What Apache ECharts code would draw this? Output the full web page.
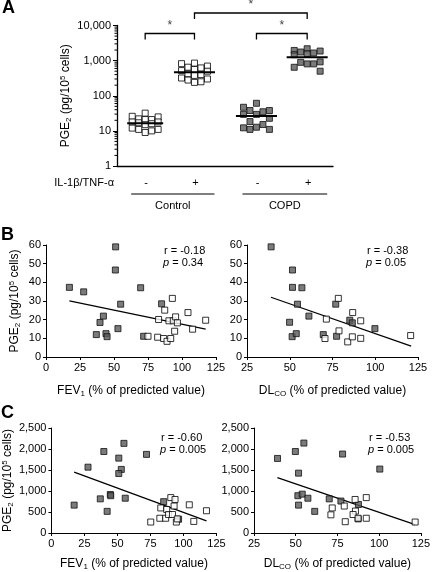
<!DOCTYPE html>
<html><head><meta charset="utf-8">
<script src="https://cdn.jsdelivr.net/npm/echarts@6/dist/echarts.min.js"></script>
<style>html,body{margin:0;padding:0;background:#fff}#c{width:433px;height:572px}</style>
</head><body><div id="c"></div>
<script>
// ---------- Panel A data ----------
const stimLabels = ['-', '+', '-', '+'];
const groupNames = ['Control', 'COPD'];
const treatmentName = 'IL-1\u03b2/TNF-\u03b1';
const ctrlBasal = [32, 26, 25, 22, 21, 21, 18, 18, 17, 16, 15, 12, 11, 11, 10, 9];
const ctrlStim = [850, 820, 700, 650, 620, 560, 520, 500, 420, 400, 380, 320, 300, 280, 250, 240];
const copdBasal = [61, 47, 38, 38, 35, 29.5, 29.5, 22.8, 18.4, 15.2, 12.7, 12.2, 11, 11];
const copdStim = [2180, 1950, 1875, 1760, 1650, 1575, 1475, 920, 895, 807, 807, 647, 500];
const groupMedians = [16.5, 470, 26.5, 1240];
const logTicksA = [1, 10, 100, 1000, 10000];

// ---------- Panel B data (basal PGE2) ----------
const bFevCopd = [[17.2,37.3],[27.7,34.9],[51.2,59],[51,46.6],[69.6,37.1],[54.9,28.3],[42.2,21.9],[39.7,18.5],[37,12],[44.1,12.5],[44.9,10.9],[52.9,15.2],[85,28.5],[71.8,11.1]];
const bFevCtrl = [[75,11.1],[82.1,10.6],[82.8,20.1],[87.3,25.1],[86.5,9.9],[89,8.4],[90.4,19.4],[91.7,9.9],[92.9,31.4],[93.6,19.4],[94.6,13.8],[95.3,21.5],[96.6,18.3],[104.4,23.8],[107.8,14.9],[117.4,19.7]];
const bFevFit = [[17.2,30.1],[117.4,14.9]];
const bFevStats = ['r = -0.18', '0.34'];

const bDlcoCopd = [[39.1,59],[51.6,46.6],[51.6,37.3],[57.1,37.1],[54.5,28.3],[49.9,18.6],[51.4,10.9],[53.8,12.5],[61.2,21.9],[69.6,12],[76.9,28.3],[77.4,11.1],[85.1,19.7],[86.6,18.3],[99.8,15.2]];
const bDlcoCtrl = [[71.4,20.3],[70.6,9.9],[78.4,31.4],[78.8,14],[83.9,8.1],[86.8,23.8],[86.6,10.8],[91.5,19.4],[91.5,10],[120.7,11.5]];
const bDlcoFit = [[39,32],[121,5.8]];
const bDlcoStats = ['r = -0.38', '0.05'];

// ---------- Panel C data (stimulated PGE2) ----------
const cFevCopd = [[17.2,664],[27.7,1567],[39.7,1940],[51,1783],[54.9,2134],[52.9,1514],[51,1417],[72,1872],[37,813],[44.6,917],[44.9,888],[55.9,828],[42.2,515],[85,746],[96.3,328]];
const cFevCtrl = [[75.2,261],[82.1,351],[82.8,597],[86.5,351],[87.3,560],[88.7,440],[90.4,843],[91.7,440],[92.9,642],[93.6,798],[94.6,261],[95.3,336],[104.4,671],[107.8,276],[117.4,530]];
const cFevFit = [[17.2,1450],[117.4,290]];
const cFevStats = ['r = -0.60', '0.005'];

const cDlcoCopd = [[39.1,1775],[49.8,1940],[54.9,2141],[51.7,1425],[51.3,888],[53.9,925],[57.3,828],[51.7,664],[61.4,515],[70.1,813],[78.1,1880],[77.1,761],[87.6,679],[100.4,1522],[87.4,336]];
const cDlcoCtrl = [[71.9,597],[71.1,433],[79.1,642],[79.7,269],[85.6,798],[85.8,522],[84.4,440],[87.4,351],[92.3,843],[92.3,351],[121.6,261]];
const cDlcoFit = [[39,1320],[121.6,200]];
const cDlcoStats = ['r = -0.53', '0.005'];

// ---------- styling / layout ----------
const FONT = "'Liberation Sans', Arial, Helvetica, sans-serif";
const groupCenters = [1, 2.05, 3.37, 4.45];
const medianHalf = [0.383, 0.437, 0.437, 0.437];
const colStep = 0.138;
const colPattern = [0, -2, 2, -1, 1];
const OPEN = {color:'#ffffff', borderColor:'#000', borderWidth:1};
const FILL = {color:'#5a5a5a', borderColor:'#111', borderWidth:1};

function swarm(values, center) {
  const idx = values.map((v,i)=>i).sort((a,b)=>values[b]-values[a]);
  const out = new Array(values.length);
  idx.forEach((k, j) => { out[k] = [center + colPattern[j % colPattern.length]*colStep, values[k]]; });
  return out;
}
const fmt = v => Number(v).toLocaleString('en-US');
const richPGE = {
  a:{fontSize:12, fontFamily:FONT, color:'#000', lineHeight:14},
  s:{fontSize:8, fontFamily:FONT, color:'#000', lineHeight:8, verticalAlign:'bottom'},
  p:{fontSize:8, fontFamily:FONT, color:'#000', lineHeight:8, verticalAlign:'top'}
};
const pgeName = '{a|PGE}{s|2}{a| (pg/10}{p|5}{a| cells)}';
const fevName = '{a|FEV}{s|1}{a| (% of predicted value)}';
const dlcoName = '{a|DL}{s|CO}{a| (% of predicted value)}';

function valAxis(gi, min, max, interval, extra) {
  return Object.assign({
    type:'value', gridIndex:gi, min, max, interval,
    axisLine:{show:true, lineStyle:{color:'#000', width:1}},
    axisTick:{show:true, length:3, inside:false, lineStyle:{color:'#000'}},
    axisLabel:{color:'#000', fontSize:11, fontFamily:FONT, margin:5, formatter: fmt},
    splitLine:{show:false}
  }, extra || {});
}

const xAxis = [
  {type:'value', gridIndex:0, min:0.4, max:5.0, axisLine:{show:true, lineStyle:{color:'#000', width:1.3}},
   axisTick:{show:false}, axisLabel:{show:false}, splitLine:{show:false}},
  valAxis(1, 0, 125, 25, {name:fevName, nameLocation:'middle', nameGap:27, nameTextStyle:{rich:richPGE}}),
  valAxis(2, 25, 125, 25, {name:dlcoName, nameLocation:'middle', nameGap:27, nameTextStyle:{rich:richPGE}}),
  valAxis(3, 0, 125, 25, {name:fevName, nameLocation:'middle', nameGap:24, nameTextStyle:{rich:richPGE}}),
  valAxis(4, 25, 125, 25, {name:dlcoName, nameLocation:'middle', nameGap:24, nameTextStyle:{rich:richPGE}})
];
const yAxis = [
  {type:'log', gridIndex:0, min:logTicksA[0], max:logTicksA[logTicksA.length-1], logBase:10,
   axisLine:{show:true, lineStyle:{color:'#000', width:1.3}},
   axisTick:{show:true, length:4, lineStyle:{color:'#000'}},
   axisLabel:{color:'#000', fontSize:11, fontFamily:FONT, margin:6, formatter: fmt},
   splitLine:{show:false}, minorTick:{show:false},
   name:pgeName, nameLocation:'middle', nameRotate:90, nameGap:44, nameTextStyle:{rich:richPGE}},
  valAxis(1, 0, 60, 10, {name:pgeName, nameLocation:'middle', nameRotate:90, nameGap:24, nameTextStyle:{rich:richPGE}}),
  valAxis(2, 0, 60, 10),
  valAxis(3, 0, 2500, 500, {name:pgeName, nameLocation:'middle', nameRotate:90, nameGap:24, nameTextStyle:{rich:richPGE}}),
  valAxis(4, 0, 2500, 500)
];

const sq = (gi, data, style) => ({type:'scatter', xAxisIndex:gi, yAxisIndex:gi, data, symbol:'rect', symbolSize:6, itemStyle:style, z:3});
const fitLine = (gi, data) => ({type:'line', xAxisIndex:gi, yAxisIndex:gi, data, symbol:'none', lineStyle:{color:'#000', width:1.2}, z:2});

const aGroups = [ctrlBasal, ctrlStim, copdBasal, copdStim];
const series = [];
aGroups.forEach((vals, i) => {
  series.push(sq(0, swarm(vals, groupCenters[i]), i < 2 ? OPEN : FILL));
  series.push({type:'line', xAxisIndex:0, yAxisIndex:0, symbol:'none', z:4,
    lineStyle:{color:'#000', width:2},
    data:[[groupCenters[i]-medianHalf[i], groupMedians[i]], [groupCenters[i]+medianHalf[i], groupMedians[i]]]});
});
series.push(sq(1, bFevCopd, FILL), sq(1, bFevCtrl, OPEN), fitLine(1, bFevFit));
series.push(sq(2, bDlcoCopd, FILL), sq(2, bDlcoCtrl, OPEN), fitLine(2, bDlcoFit));
series.push(sq(3, cFevCopd, FILL), sq(3, cFevCtrl, OPEN), fitLine(3, cFevFit));
series.push(sq(4, cDlcoCopd, FILL), sq(4, cDlcoCtrl, OPEN), fitLine(4, cDlcoFit));

const chart = echarts.init(document.getElementById('c'), null, {renderer:'canvas'});
chart.setOption({
  animation:false, backgroundColor:'#fff',
  grid:[
    {left:117, top:25.5, width:216, height:140.5},
    {left:46, top:245, width:170, height:112},
    {left:247, top:245, width:171, height:112},
    {left:46.5, top:428, width:170, height:112},
    {left:254, top:428, width:168, height:112}
  ],
  xAxis, yAxis, series
});

// ---------- annotations ----------
const px = (gi, x, y) => chart.convertToPixel({xAxisIndex:gi, yAxisIndex:gi}, [x, y]);
const g = [];
const txt = (x, y, text, o) => g.push({type:'text', x, y, z:10, style:Object.assign({text, fill:'#000', font:'11px ' + FONT, textAlign:'center', textVerticalAlign:'middle'}, o||{})});
const line = (pts, w) => g.push({type:'polyline', z:10, shape:{points:pts}, style:{stroke:'#000', lineWidth:w||1.3, fill:null}});

// log minor ticks
const axX = px(0, 0.4, 1)[0];
for (let k = 0; k < 4; k++) for (let m = 2; m <= 9; m++) {
  const y = px(0, 1, m*Math.pow(10,k))[1];
  line([[axX-2.5, y], [axX, y]], 1);
}
// panel letters
txt(2, 8, 'A', {font:'bold 18px ' + FONT, textAlign:'left'});
txt(1, 235, 'B', {font:'bold 18px ' + FONT, textAlign:'left'});
txt(1, 413, 'C', {font:'bold 18px ' + FONT, textAlign:'left'});
// treatment labels
const cx = groupCenters.map(c => px(0, c, 1)[0]);
const baseY = px(0, 1, 1)[1];
txt(axX-3, baseY+17, treatmentName, {textAlign:'right'});
stimLabels.forEach((s, i) => txt(cx[i]+1, baseY+17, s));
[[0,1],[2,3]].forEach((pair, j) => {
  const x1 = cx[pair[0]]-14, x2 = cx[pair[1]]+20;
  line([[x1, baseY+28], [x2, baseY+28]], 1.2);
  txt((x1+x2)/2, baseY+40, groupNames[j]);
});
// significance brackets
const topY = px(0, 1, 10000)[1];
const br = (a, b, y, drop) => { line([[cx[a], y+drop], [cx[a], y], [cx[b], y], [cx[b], y+drop]], 1.3); txt((cx[a]+cx[b])/2, y-8, '*', {fill:'#444', font:'12px ' + FONT}); };
br(0, 1, topY+8, 6);
br(2, 3, topY+8, 6);
br(1, 3, topY-12.5, 6);
// correlation stats
const stat = (x, y, s) => {
  txt(x, y, s[0], {textAlign:'left'});
  g.push({type:'text', x:x-1, y:y+12, z:10, style:{text:'{i|p} = ' + s[1], textAlign:'left', textVerticalAlign:'middle', font:'11px ' + FONT, fill:'#000',
    rich:{i:{fontStyle:'italic', fontSize:11, fontFamily:FONT, fill:'#000'}}}});
};
stat(164, 251, bFevStats);
stat(367, 251, bDlcoStats);
stat(161, 438, cFevStats);
stat(369, 438, cDlcoStats);

chart.setOption({graphic:g});
</script></body></html>
